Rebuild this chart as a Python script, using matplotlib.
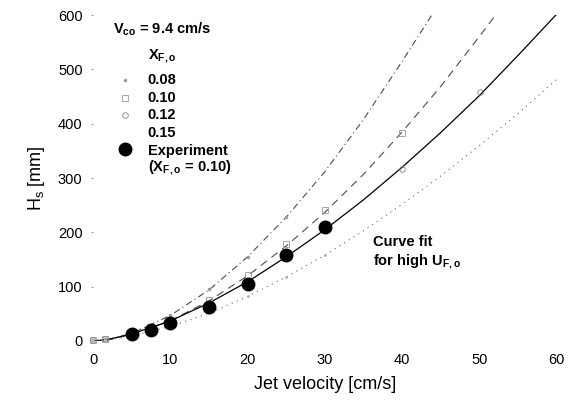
import matplotlib
matplotlib.use("Agg")
import matplotlib.pyplot as plt

plt.rcParams['font.family'] = ['Liberation Sans', 'DejaVu Sans']
plt.rcParams['mathtext.default'] = 'regular'

# fitted curves (jet velocity cm/s -> H_s mm)
u_08 = [0, 2, 5, 10, 15, 20, 25, 30, 35, 40, 44]
h_08 = [0, 3, 14, 47, 94, 155, 228, 312, 408, 515, 604]
u_10 = [0, 2, 5, 10, 15, 20, 25, 30, 35, 40, 45, 50, 52.5]
h_10 = [0, 2, 12, 37, 74, 120, 175, 237, 307, 385, 469, 561, 608]
u_12 = [0, 2, 5, 10, 15, 20, 25, 30, 35, 40, 45, 50, 55, 60]
h_12 = [0, 3, 13, 37, 70, 109, 155, 205, 260, 320, 384, 452, 526, 602]
u_15 = [0, 2, 5, 10, 15, 20, 25, 30, 35, 40, 45, 50, 55, 60]
h_15 = [0, 2, 9, 27, 51, 82, 118, 158, 203, 252, 304, 360, 419, 482]

# simulation points
su_08 = [0, 1.5, 5, 7.5, 10, 15, 20, 25]
sh_08 = [2, 3, 15, 30, 48, 95, 155, 228]
su_10 = [0, 1.5, 5, 7.5, 10, 15, 20, 25, 30, 40]
sh_10 = [2, 3, 12, 25, 38, 75, 122, 178, 241, 383]
su_12 = [0, 1.5, 5, 7.5, 10, 15, 20, 25, 30, 40, 50]
sh_12 = [2, 3, 13, 24, 37, 70, 109, 155, 205, 317, 459]
su_15 = [0, 1.5, 5, 7.5, 10, 15, 20, 25, 30]
sh_15 = [1, 2, 9, 17, 27, 51, 82, 118, 158]

# experiment (X_F,o = 0.10)
exp_u = [5, 7.5, 10, 15, 20, 25, 30]
exp_h = [13, 20, 33, 62, 104, 158, 210]

fig = plt.figure(figsize=(5.72, 4.0), dpi=100)
ax = fig.add_axes([0.1626, 0.1475, 0.811, 0.815])

ax.plot(u_08, h_08, color='0.3', lw=0.8, ls=(0, (6, 3, 1, 3)))
ax.plot(u_10, h_10, color='0.3', lw=0.8, ls=(0, (7, 5)))
ax.plot(u_12, h_12, color='black', lw=0.9, ls='-')
ax.plot(u_15, h_15, color='0.4', lw=0.8, ls=(0, (1, 4)))

ax.plot(su_08, sh_08, ls='none', marker='.', ms=3, color='0.6', clip_on=False)
ax.plot(su_10, sh_10, ls='none', marker='s', ms=4, mfc='none', mec='0.6', mew=0.6, clip_on=False)
ax.plot(su_12, sh_12, ls='none', marker='o', ms=4, mfc='none', mec='0.5', mew=0.6, clip_on=False)
ax.plot(su_15, sh_15, ls='none', marker='.', ms=2, color='0.7', clip_on=False)

ax.plot(exp_u, exp_h, ls='none', marker='o', ms=9, color='black', clip_on=False)

ax.set_xlim(0, 60)
ax.set_ylim(0, 600)
ax.set_xticks([0, 10, 20, 30, 40, 50, 60])
ax.set_yticks([0, 100, 200, 300, 400, 500, 600])
for s in ax.spines.values():
    s.set_visible(False)
ax.tick_params(axis='x', length=0, pad=9, labelsize=10.5)
ax.tick_params(axis='y', length=1.5, color='0.6', pad=6, labelsize=10.5)

ax.set_xlabel('Jet velocity [cm/s]', fontsize=13, labelpad=6)
ax.set_ylabel(r'H$_{s}$ [mm]', fontsize=13, labelpad=8)

# legend, drawn by hand
tb = dict(fontsize=10.5, fontweight='bold', transform=ax.transAxes, va='center')
ax.text(0.043, 0.955, r'V$_{co}$ = 9.4 cm/s', **tb)
ax.text(0.118, 0.872, r'X$_{F,o}$', **tb)
ax.text(0.118, 0.800, '0.08', **tb)
ax.text(0.118, 0.746, '0.10', **tb)
ax.text(0.118, 0.692, '0.12', **tb)
ax.text(0.118, 0.638, '0.15', **tb)
ax.text(0.118, 0.584, 'Experiment', **tb)
ax.text(0.118, 0.530, r'(X$_{F,o}$ = 0.10)', **tb)
ax.plot([0.069], [0.800], transform=ax.transAxes, marker='.', ms=3, color='0.6', ls='none')
ax.plot([0.069], [0.746], transform=ax.transAxes, marker='s', ms=4, mfc='none', mec='0.6', mew=0.6, ls='none')
ax.plot([0.069], [0.692], transform=ax.transAxes, marker='o', ms=4, mfc='none', mec='0.5', mew=0.6, ls='none')
ax.plot([0.069], [0.588], transform=ax.transAxes, marker='o', ms=9, color='black', ls='none')

ax.text(36.2, 182, 'Curve fit', fontsize=10.5, fontweight='bold', va='center')
ax.text(36.2, 145, r'for high U$_{F,o}$', fontsize=10.5, fontweight='bold', va='center')

fig.savefig('out.png', dpi=100)
